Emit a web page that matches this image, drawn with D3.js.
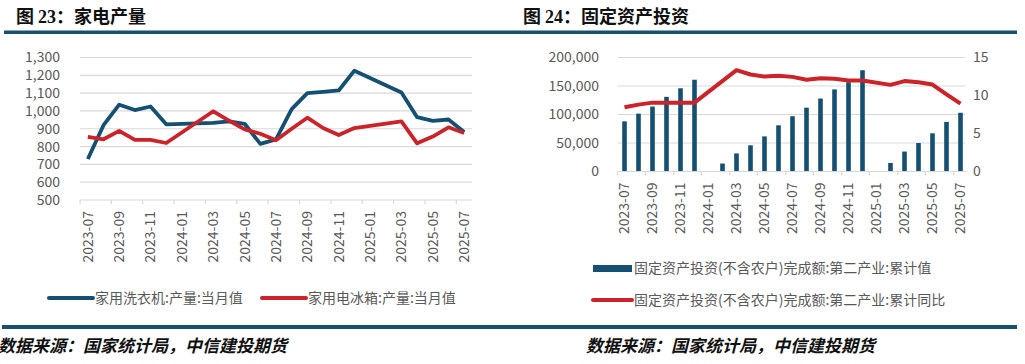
<!DOCTYPE html>
<html>
<head>
<meta charset="utf-8">
<script src="https://cdn.jsdelivr.net/npm/d3@7"></script>
<style>
  body { margin: 0; background: #fff; }
  svg { display: block; }
  text { font-family: "Noto Sans CJK SC", "Noto Sans", sans-serif; }
</style>
</head>
<body>
<div id="chart"></div>
<script>
// months shared by both panels
const months = ["2023-07","2023-08","2023-09","2023-10","2023-11","2023-12",
  "2024-01","2024-02","2024-03","2024-04","2024-05","2024-06","2024-07","2024-08",
  "2024-09","2024-10","2024-11","2024-12","2025-01","2025-02","2025-03","2025-04",
  "2025-05","2025-06","2025-07"];
const monthTicks = ["2023-07","2023-09","2023-11","2024-01","2024-03","2024-05","2024-07",
  "2024-09","2024-11","2025-01","2025-03","2025-05","2025-07"];

// fig 23: appliance output (monthly)
const washer = [730, 920, 1035, 1005, 1025, 925, null, null, 933, 942, 928, 815, 840,
  1010, 1100, 1107, 1115, 1226, null, null, 1104, 965, 944, 952, 882];
const fridge = [855, 841, 888, 837, 837, 820, null, null, 998, 946, 896, 872, 835,
  900, 962, 904, 865, 904, null, null, 941, 818, 856, 908, 876];
const leftTicks = [500, 600, 700, 800, 900, 1000, 1100, 1200, 1300];

// fig 24: fixed asset investment, secondary industry
const faiValue = [88000, 101500, 114000, 131000, 146000, 161000, null, 14000, 31700, 46000,
  61600, 81000, 97000, 112000, 128000, 144000, 156600, 177700, null, 15000, 35000, 50000,
  67000, 87000, 103000];
const faiYoY = [8.45, 8.8, 9.06, 9.06, 9.06, 9.06, null, null, 13.33, 12.76, 12.5, 12.6,
  12.45, 12.08, 12.27, 12.2, 11.97, 11.97, null, 11.4, 11.9, 11.75, 11.44, 10.16, 8.93];
const rightTicksL = [0, 50000, 100000, 150000, 200000];
const rightTicksR = [0, 5, 10, 15];

const blue = "#154f72", red = "#cc2229", grid = "#d9d9d9", txt = "#595959", rule = "#17506f";

const svg = d3.select("#chart").append("svg")
    .attr("width", 1025)
    .attr("height", 364);

svg.append("rect").attr("width", 1025).attr("height", 364).attr("fill", "#fff");

// header / footer rules
svg.append("rect").attr("x", 4).attr("y", 30.5).attr("width", 1013).attr("height", 3.5).attr("fill", rule);
svg.append("rect").attr("x", 2).attr("y", 325).attr("width", 1015).attr("height", 4).attr("fill", rule);

function title(x, num, label) {
  const t = svg.append("text").attr("x", x).attr("y", 23)
      .attr("font-size", 18).attr("font-weight", 700).attr("fill", "#111");
  t.append("tspan").text("图 ");
  t.append("tspan").attr("font-family", "'Liberation Serif', serif").text(num);
  t.append("tspan").text("：" + label);
}
title(16, "23", "家电产量");
title(523, "24", "固定资产投资");

svg.selectAll("text.src")
  .data([-2, 586])
  .join("text")
    .attr("x", d => d)
    .attr("y", 352)
    .attr("font-size", 17)
    .attr("font-style", "italic")
    .attr("font-weight", 700)
    .attr("fill", "#111")
    .text("数据来源：国家统计局，中信建投期货");

// shared bottom category axis
function catAxis(x, yPos) {
  const g = svg.append("g");
  g.append("line")
      .attr("x1", x.range()[0]).attr("x2", x.range()[1])
      .attr("y1", yPos).attr("y2", yPos)
      .attr("stroke", grid).attr("stroke-width", 1.2);
  g.selectAll("line.tk")
    .data(monthTicks)
    .join("line")
      .attr("x1", d => x(d)).attr("x2", d => x(d))
      .attr("y1", yPos).attr("y2", yPos + 4)
      .attr("stroke", grid).attr("stroke-width", 1.2);

  const ax = svg.append("g")
      .attr("transform", `translate(0,${yPos})`)
      .call(d3.axisBottom(x).tickValues(monthTicks).tickSize(0));
  ax.select(".domain").remove();
  ax.selectAll("text")
      .attr("transform", "rotate(-90)")
      .attr("text-anchor", "end")
      .attr("x", -11)
      .attr("y", 0)
      .attr("dy", "0.35em")
      .attr("font-size", 14)
      .attr("font-family", "'Noto Sans CJK SC', sans-serif")
      .attr("fill", txt);
}

// ---------- left: appliance output ----------
{
  const x = d3.scaleBand().domain(months).range([80, 472]);
  const y = d3.scaleLinear().domain([500, 1300]).range([200, 57.5]);

  svg.append("g").selectAll("line")
    .data(leftTicks.filter(d => d > 500))
    .join("line")
      .attr("x1", 80).attr("x2", 472)
      .attr("y1", d => y(d)).attr("y2", d => y(d))
      .attr("stroke", grid).attr("stroke-width", 1.2);

  const ay = svg.append("g")
      .attr("transform", "translate(62,0)")
      .call(d3.axisLeft(y).tickValues(leftTicks).tickFormat(d3.format(",")).tickSize(0).tickPadding(2));
  ay.select(".domain").remove();
  ay.selectAll("text").attr("font-size", 14).attr("fill", txt)
      .attr("font-family", "'Noto Sans CJK SC', sans-serif");

  catAxis(x, 200);

  const line = d3.line()
      .x(d => x(d.m) + x.bandwidth() / 2)
      .y(d => y(d.v));

  [[washer, blue], [fridge, red]].forEach(([vals, c]) => {
    const pts = months.map((m, i) => ({m, v: vals[i]})).filter(d => d.v != null);
    svg.append("path")
        .datum(pts)
        .attr("fill", "none")
        .attr("stroke", c)
        .attr("stroke-width", 3.8)
        .attr("stroke-linejoin", "round")
        .attr("d", line);
  });

  const leg = [
    {x: 49, c: blue, label: "家用洗衣机:产量:当月值"},
    {x: 262, c: red, label: "家用电冰箱:产量:当月值"}
  ];
  const lg = svg.append("g").selectAll("g").data(leg).join("g");
  lg.append("line")
      .attr("x1", d => d.x).attr("x2", d => d.x + 44)
      .attr("y1", 298).attr("y2", 298)
      .attr("stroke", d => d.c).attr("stroke-width", 4).attr("stroke-linecap", "round");
  lg.append("text")
      .attr("x", d => d.x + 46).attr("y", 298).attr("dy", "0.35em")
      .attr("font-size", 14).attr("fill", txt)
      .text(d => d.label);
}

// ---------- right: fixed asset investment ----------
{
  const x = d3.scaleBand().domain(months).range([617.5, 967.5]);
  const yL = d3.scaleLinear().domain([0, 200000]).range([171.5, 57.5]);
  const yR = d3.scaleLinear().domain([0, 15]).range([171.5, 57.5]);

  svg.append("g").selectAll("line")
    .data(rightTicksL.filter(d => d > 0))
    .join("line")
      .attr("x1", 617.5).attr("x2", 965)
      .attr("y1", d => yL(d)).attr("y2", d => yL(d))
      .attr("stroke", grid).attr("stroke-width", 1.2);

  const ayl = svg.append("g")
      .attr("transform", "translate(601,0)")
      .call(d3.axisLeft(yL).tickValues(rightTicksL).tickFormat(d3.format(",")).tickSize(0).tickPadding(2));
  ayl.select(".domain").remove();
  ayl.selectAll("text").attr("font-size", 14).attr("fill", txt)
      .attr("font-family", "'Noto Sans CJK SC', sans-serif");

  const ayr = svg.append("g")
      .attr("transform", "translate(971,0)")
      .call(d3.axisRight(yR).tickValues(rightTicksR).tickSize(0).tickPadding(2));
  ayr.select(".domain").remove();
  ayr.selectAll("text").attr("font-size", 14).attr("fill", txt)
      .attr("font-family", "'Noto Sans CJK SC', sans-serif");

  const bw = 4.6;
  svg.append("g").selectAll("rect")
    .data(months.map((m, i) => ({m, v: faiValue[i]})).filter(d => d.v != null))
    .join("rect")
      .attr("x", d => x(d.m) + x.bandwidth() / 2 - bw / 2)
      .attr("y", d => yL(d.v))
      .attr("width", bw)
      .attr("height", d => yL(0) - yL(d.v))
      .attr("fill", blue);

  catAxis(x, 171.5);

  const line = d3.line()
      .x(d => x(d.m) + x.bandwidth() / 2)
      .y(d => yR(d.v));
  svg.append("path")
      .datum(months.map((m, i) => ({m, v: faiYoY[i]})).filter(d => d.v != null))
      .attr("fill", "none")
      .attr("stroke", red)
      .attr("stroke-width", 4)
      .attr("stroke-linejoin", "round")
      .attr("d", line);

  svg.append("rect")
      .attr("x", 593).attr("y", 265).attr("width", 39).attr("height", 7)
      .attr("fill", blue);
  svg.append("line")
      .attr("x1", 593).attr("x2", 632).attr("y1", 300).attr("y2", 300)
      .attr("stroke", red).attr("stroke-width", 4).attr("stroke-linecap", "round");
  svg.selectAll("text.lgR")
    .data([{y: 268.5, t: "固定资产投资(不含农户)完成额:第二产业:累计值"},
           {y: 300, t: "固定资产投资(不含农户)完成额:第二产业:累计同比"}])
    .join("text")
      .attr("x", 634).attr("y", d => d.y).attr("dy", "0.35em")
      .attr("font-size", 14).attr("fill", txt)
      .text(d => d.t);
}
</script>
</body>
</html>
